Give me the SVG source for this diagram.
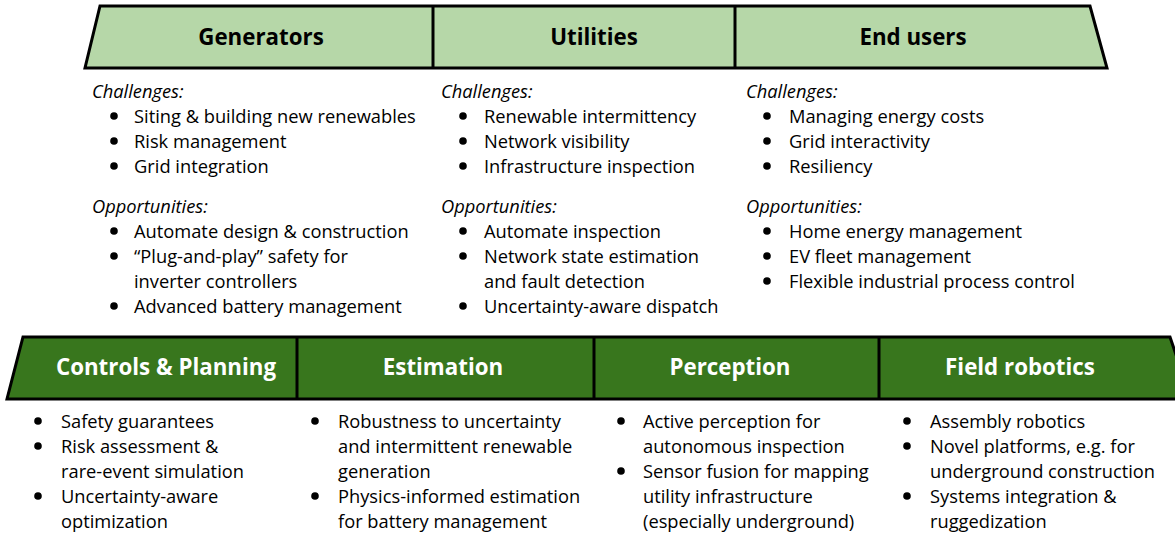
<svg xmlns="http://www.w3.org/2000/svg" width="1175" height="539" viewBox="0 0 1175 539">
<style>
.band{stroke:#000;stroke-width:3;stroke-linejoin:miter}
.top{fill:#b6d7a8}
.bot{fill:#38761d}
.div{stroke:#000;stroke-width:3}
.h{font-family:"Open Sans","Liberation Sans",sans-serif;font-weight:bold;font-size:22.3px;text-anchor:middle}
.ht{fill:#000}
.hb{fill:#fff}
.t{font-family:"Open Sans","Liberation Sans",sans-serif;font-size:18.3px;fill:#000}
.i{font-style:italic}
.b{fill:#000}
</style>
<rect width="1175" height="539" fill="#fff"/>
<g id="top-band">
<polygon class="band top" points="100,6 1090,6 1107,68 85,68"/>
</g>
<g id="bottom-band">
<polygon class="band bot" points="23,337 1170,337 1191,399 7,399"/>
</g>
<g id="connectors">
<line class="div" x1="433" y1="6" x2="433" y2="68"/>
<line class="div" x1="735" y1="6" x2="735" y2="68"/>
<line class="div" x1="297" y1="337" x2="297" y2="399"/>
<line class="div" x1="594" y1="337" x2="594" y2="399"/>
<line class="div" x1="879" y1="337" x2="879" y2="399"/>
</g>
<g id="generators">
<text class="h ht" x="261" y="45">Generators</text>
<text class="t i" x="92" y="98">Challenges:</text>
<circle class="b" cx="114" cy="116" r="3.8"/><text class="t" x="134" y="123">Siting &amp; building new renewables</text>
<circle class="b" cx="114" cy="141" r="3.8"/><text class="t" x="134" y="148">Risk management</text>
<circle class="b" cx="114" cy="166" r="3.8"/><text class="t" x="134" y="173">Grid integration</text>
<text class="t i" x="92" y="213">Opportunities:</text>
<circle class="b" cx="114" cy="231" r="3.8"/><text class="t" x="134" y="238">Automate design &amp; construction</text>
<circle class="b" cx="114" cy="256" r="3.8"/><text class="t" x="134" y="263">“Plug-and-play” safety for</text>
<text class="t" x="134" y="288">inverter controllers</text>
<circle class="b" cx="114" cy="306" r="3.8"/><text class="t" x="134" y="313">Advanced battery management</text>
</g>
<g id="utilities">
<text class="h ht" x="594" y="45">Utilities</text>
<text class="t i" x="441" y="98">Challenges:</text>
<circle class="b" cx="463" cy="116" r="3.8"/><text class="t" x="484" y="123">Renewable intermittency</text>
<circle class="b" cx="463" cy="141" r="3.8"/><text class="t" x="484" y="148">Network visibility</text>
<circle class="b" cx="463" cy="166" r="3.8"/><text class="t" x="484" y="173">Infrastructure inspection</text>
<text class="t i" x="441" y="213">Opportunities:</text>
<circle class="b" cx="463" cy="231" r="3.8"/><text class="t" x="484" y="238">Automate inspection</text>
<circle class="b" cx="463" cy="256" r="3.8"/><text class="t" x="484" y="263">Network state estimation</text>
<text class="t" x="484" y="288">and fault detection</text>
<circle class="b" cx="463" cy="306" r="3.8"/><text class="t" x="484" y="313">Uncertainty-aware dispatch</text>
</g>
<g id="end-users">
<text class="h ht" x="913" y="45">End users</text>
<text class="t i" x="746" y="98">Challenges:</text>
<circle class="b" cx="767" cy="116" r="3.8"/><text class="t" x="789" y="123">Managing energy costs</text>
<circle class="b" cx="767" cy="141" r="3.8"/><text class="t" x="789" y="148">Grid interactivity</text>
<circle class="b" cx="767" cy="166" r="3.8"/><text class="t" x="789" y="173">Resiliency</text>
<text class="t i" x="746" y="213">Opportunities:</text>
<circle class="b" cx="767" cy="231" r="3.8"/><text class="t" x="789" y="238">Home energy management</text>
<circle class="b" cx="767" cy="256" r="3.8"/><text class="t" x="789" y="263">EV fleet management</text>
<circle class="b" cx="767" cy="281" r="3.8"/><text class="t" x="789" y="288">Flexible industrial process control</text>
</g>
<g id="controls-planning">
<text class="h hb" x="166" y="375">Controls &amp; Planning</text>
<circle class="b" cx="38" cy="421" r="3.8"/><text class="t" x="61" y="428">Safety guarantees</text>
<circle class="b" cx="38" cy="446" r="3.8"/><text class="t" x="61" y="453">Risk assessment &amp;</text>
<text class="t" x="61" y="478">rare-event simulation</text>
<circle class="b" cx="38" cy="496" r="3.8"/><text class="t" x="61" y="503">Uncertainty-aware</text>
<text class="t" x="61" y="528">optimization</text>
</g>
<g id="estimation">
<text class="h hb" x="443" y="375">Estimation</text>
<circle class="b" cx="315" cy="421" r="3.8"/><text class="t" x="338" y="428">Robustness to uncertainty</text>
<text class="t" x="338" y="453">and intermittent renewable</text>
<text class="t" x="338" y="478">generation</text>
<circle class="b" cx="315" cy="496" r="3.8"/><text class="t" x="338" y="503">Physics-informed estimation</text>
<text class="t" x="338" y="528">for battery management</text>
</g>
<g id="perception">
<text class="h hb" x="730" y="375">Perception</text>
<circle class="b" cx="621" cy="421" r="3.8"/><text class="t" x="643" y="428">Active perception for</text>
<text class="t" x="643" y="453">autonomous inspection</text>
<circle class="b" cx="621" cy="471" r="3.8"/><text class="t" x="643" y="478">Sensor fusion for mapping</text>
<text class="t" x="643" y="503">utility infrastructure</text>
<text class="t" x="643" y="528">(especially underground)</text>
</g>
<g id="field-robotics">
<text class="h hb" x="1020" y="375">Field robotics</text>
<circle class="b" cx="907" cy="421" r="3.8"/><text class="t" x="930" y="428">Assembly robotics</text>
<circle class="b" cx="907" cy="446" r="3.8"/><text class="t" x="930" y="453">Novel platforms, e.g. for</text>
<text class="t" x="930" y="478">underground construction</text>
<circle class="b" cx="907" cy="496" r="3.8"/><text class="t" x="930" y="503">Systems integration &amp;</text>
<text class="t" x="930" y="528">ruggedization</text>
</g>
</svg>
